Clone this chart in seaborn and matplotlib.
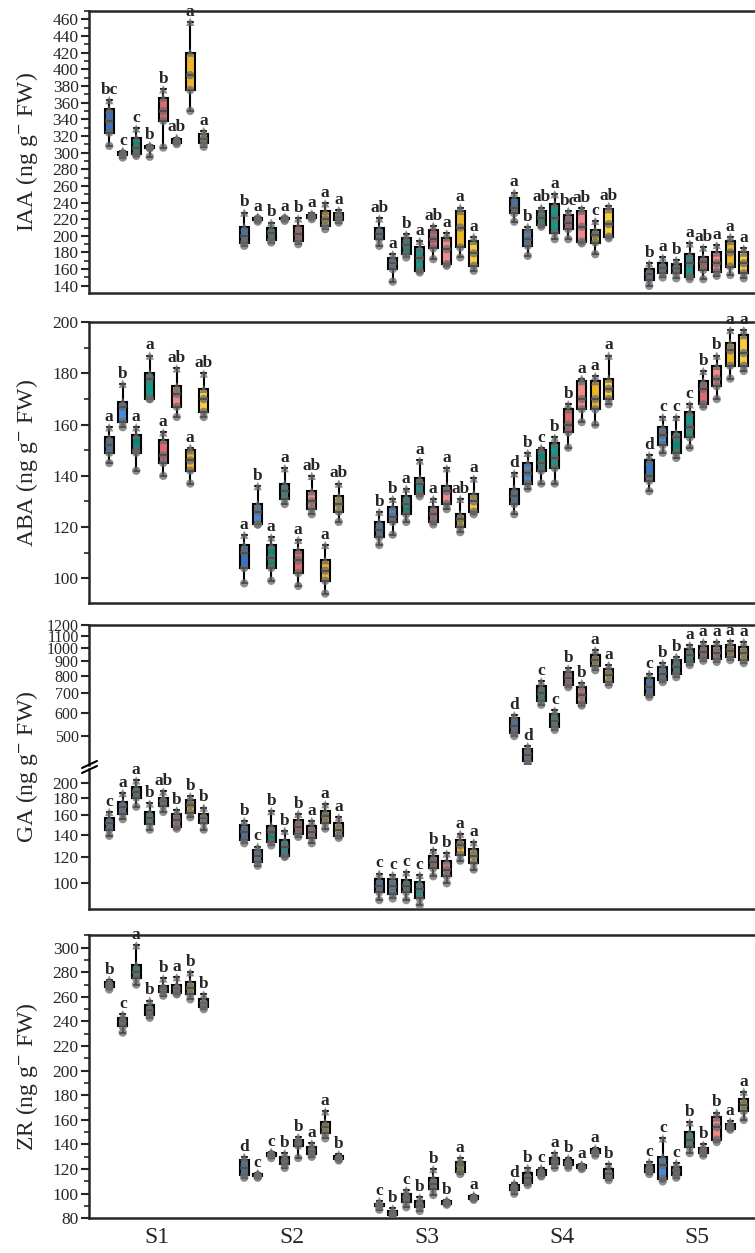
import matplotlib

matplotlib.use("Agg")
import matplotlib.pyplot as plt
import pandas as pd
import seaborn as sns
from matplotlib.lines import Line2D
from matplotlib.ticker import FixedFormatter, FixedLocator, MultipleLocator, NullLocator

STAGES = ["S1", "S2", "S3", "S4", "S5"]
GROUPS = ["B1", "B2", "T1", "T2", "R1", "R2", "Y1", "Y2"]
PALETTE = ["#3574c4", "#4a8ad6", "#0f8577", "#16998a",
           "#dc6a72", "#f28a8c", "#eab52a", "#f9cd3d"]

# five readings per box: min, q1, median, q3, max
IAA_VALUES = [
    [[308, 324, 338, 352, 363], [294, 297, 299, 301, 302], [296, 298, 305, 318, 329], [295, 305, 306, 308, 309],
     [306, 338, 350, 366, 376], [310, 312, 314, 316, 318], [350, 375, 393, 420, 457], [307, 311, 316, 322, 326]],
    [[188, 192, 200, 211, 228], [217, 219, 221, 222, 223], [192, 195, 203, 210, 216], [218, 220, 221, 222, 223],
     [190, 194, 202, 212, 221], [220, 222, 224, 225, 227], [208, 212, 220, 230, 239], [216, 219, 223, 227, 231]],
    [[188, 196, 202, 209, 221], [145, 160, 167, 173, 178], [174, 178, 189, 198, 202], [156, 158, 173, 186, 194],
     [172, 185, 196, 207, 212], [164, 166, 184, 198, 203], [174, 186, 210, 230, 234], [158, 164, 179, 194, 199]],
    [[217, 227, 234, 246, 252], [176, 188, 196, 207, 211], [211, 213, 222, 230, 234], [196, 204, 221, 238, 250],
     [196, 208, 216, 225, 230], [191, 193, 211, 230, 233], [178, 192, 201, 207, 218], [197, 199, 214, 232, 236]],
    [[140, 147, 154, 160, 167], [150, 155, 161, 167, 174], [149, 155, 161, 166, 171], [148, 151, 167, 178, 191],
     [148, 159, 168, 174, 186], [152, 157, 167, 180, 189], [153, 163, 180, 194, 199], [149, 155, 167, 180, 185]],
]
IAA_LETTERS = [
    ["bc", "c", "c", "b", "b", "ab", "a", "a"],
    ["b", "a", "b", "a", "b", "a", "a", "a"],
    ["ab", "a", "b", "a", "ab", "a", "a", "a"],
    ["a", "b", "ab", "a", "bc", "ab", "c", "ab"],
    ["b", "a", "b", "a", "ab", "a", "a", "a"],
]

ABA_VALUES = [
    [[145, 149, 152, 155, 159], [159, 161, 167, 169, 176], [142, 149, 150, 156, 159], [170, 170, 178, 180, 187],
     [140, 145, 148, 154, 157], [163, 167, 172, 175, 182], [137, 142, 146, 150, 151], [163, 165, 170, 174, 180]],
    [[98, 104, 110, 113, 117], [121, 121, 126, 129, 136], [99, 104, 108, 113, 116], [129, 131, 134, 137, 143],
     [97, 102, 107, 111, 115], [125, 127, 130, 134, 140], [94, 99, 103, 107, 113], [122, 126, 129, 132, 137]],
    [[113, 116, 119, 122, 126], [117, 122, 124, 128, 131], [122, 125, 129, 132, 135], [132, 133, 137, 139, 146],
     [121, 122, 125, 128, 131], [127, 129, 134, 136, 143], [118, 120, 123, 125, 131], [125, 126, 130, 133, 139]],
    [[125, 129, 132, 135, 141], [135, 137, 141, 145, 149], [137, 142, 145, 150, 151], [137, 143, 147, 153, 155],
     [151, 157, 160, 166, 168], [161, 166, 170, 177, 178], [160, 166, 170, 177, 179], [168, 170, 174, 178, 187]],
    [[134, 138, 140, 146, 148], [149, 152, 156, 159, 163], [147, 149, 155, 157, 163], [151, 155, 159, 165, 168],
     [167, 168, 174, 177, 181], [170, 175, 178, 183, 187], [178, 183, 189, 192, 197], [181, 183, 188, 195, 197]],
]
ABA_LETTERS = [
    ["a", "b", "a", "a", "a", "ab", "a", "ab"],
    ["a", "b", "a", "a", "a", "ab", "a", "ab"],
    ["b", "b", "a", "a", "a", "a", "ab", "a"],
    ["d", "b", "c", "b", "b", "a", "a", "a"],
    ["d", "c", "c", "c", "b", "b", "a", "a"],
]

GA_VALUES = [
    [[139, 145, 152, 157, 164], [156, 162, 170, 176, 187], [170, 181, 188, 195, 204], [145, 151, 157, 164, 174],
     [164, 171, 177, 181, 189], [146, 148, 155, 162, 166], [158, 163, 172, 178, 183], [145, 152, 157, 162, 169]],
    [[132, 135, 143, 150, 154], [113, 116, 121, 126, 129], [130, 133, 143, 149, 165], [120, 121, 129, 135, 144],
     [138, 141, 148, 155, 162], [132, 137, 143, 149, 154], [146, 152, 159, 165, 173], [137, 139, 145, 152, 158]],
    [[89, 94, 98, 103, 107], [90, 93, 98, 103, 106], [89, 94, 98, 102, 108], [86, 90, 96, 101, 106],
     [105, 111, 116, 121, 126], [100, 105, 110, 117, 123], [117, 122, 130, 135, 141], [110, 115, 121, 127, 133]],
    [[500, 512, 540, 575, 590], [402, 410, 430, 450, 462], [640, 660, 700, 740, 770], [525, 538, 565, 595, 612],
     [735, 750, 790, 830, 852], [636, 648, 690, 738, 760], [840, 866, 910, 948, 985], [748, 767, 812, 850, 876]],
    [[680, 692, 735, 788, 818], [765, 780, 818, 862, 889], [795, 818, 864, 908, 935], [875, 895, 945, 990, 1025],
     [905, 925, 972, 1020, 1050], [897, 918, 965, 1015, 1050], [910, 932, 980, 1022, 1054], [889, 910, 960, 1012, 1050]],
]
GA_LETTERS = [
    ["c", "a", "a", "b", "ab", "b", "b", "b"],
    ["b", "c", "b", "b", "b", "a", "a", "a"],
    ["c", "c", "c", "c", "b", "b", "a", "a"],
    ["d", "d", "c", "c", "b", "b", "a", "a"],
    ["c", "b", "b", "a", "a", "a", "a", "a"],
]

ZR_VALUES = [
    [[266, 268, 270, 272, 274], [231, 236, 240, 243, 246], [270, 275, 280, 286, 302], [243, 245, 249, 253, 257],
     [261, 264, 267, 269, 275], [262, 263, 267, 270, 276], [258, 262, 267, 272, 280], [250, 252, 255, 258, 262]],
    [[113, 115, 121, 127, 130], [113, 114, 115, 116, 117], [129, 131, 132, 133, 134], [121, 124, 127, 130, 133],
     [129, 139, 142, 144, 146], [130, 132, 135, 138, 141], [145, 149, 154, 158, 167], [127, 128, 129, 131, 132]],
    [[87, 90, 91, 92, 94], [81, 83, 84, 86, 88], [89, 93, 97, 100, 103], [86, 89, 91, 94, 97],
     [99, 104, 108, 113, 120], [91, 92, 93, 94, 95], [116, 118, 123, 126, 129], [95, 96, 97, 98, 99]],
    [[100, 103, 105, 107, 109], [107, 109, 113, 117, 121], [114, 115, 117, 119, 121], [121, 124, 127, 129, 133],
     [121, 123, 125, 127, 129], [120, 121, 122, 123, 124], [131, 133, 134, 136, 137], [111, 113, 116, 120, 124]],
    [[116, 118, 120, 123, 126], [110, 112, 123, 130, 145], [113, 115, 119, 122, 125], [133, 138, 144, 150, 158],
     [131, 133, 135, 137, 140], [142, 144, 154, 162, 166], [152, 153, 155, 157, 159], [160, 167, 172, 177, 183]],
]
ZR_LETTERS = [
    ["b", "c", "a", "b", "b", "a", "b", "b"],
    ["d", "c", "c", "b", "b", "a", "a", "b"],
    ["c", "b", "c", "b", "b", "b", "a", "a"],
    ["d", "b", "c", "a", "b", "a", "a", "b"],
    ["c", "c", "c", "b", "b", "b", "a", "a"],
]

W, H = 755, 1253


def to_frame(values):
    rows = []
    for stage, boxes in zip(STAGES, values):
        for group, reps in zip(GROUPS, boxes):
            for rep, value in enumerate(reps):
                rows.append({"stage": stage, "group": group, "rep": rep, "value": value})
    return pd.DataFrame(rows)


def px_axes(fig, top, bottom, left=89, right=764):
    return fig.add_axes([left / W, 1 - bottom / H, (right - left) / W, (bottom - top) / H])


def draw_boxes(ax, frame):
    sns.boxplot(
        data=frame, x="stage", y="value", hue="group",
        order=STAGES, hue_order=GROUPS, palette=PALETTE, saturation=1,
        width=0.8, gap=0.33, whis=(0, 100), showfliers=False,
        linewidth=1.5, linecolor="black", legend=False, ax=ax,
    )
    for marker, reps in (("o", [0, 1, 2]), ("^", [3, 4])):
        sns.stripplot(
            data=frame[frame["rep"].isin(reps)], x="stage", y="value", hue="group",
            order=STAGES, hue_order=GROUPS, palette=["#6a6a6a"] * len(GROUPS),
            dodge=True, jitter=False, marker=marker, size=6, alpha=0.75,
            linewidth=0, legend=False, ax=ax,
        )


def add_letters(ax, values, letters):
    for i, (boxes, marks) in enumerate(zip(values, letters)):
        for j, (reps, mark) in enumerate(zip(boxes, marks)):
            x = i - 0.35 + 0.1 * j
            ax.annotate(mark, xy=(x, max(reps)), xytext=(0, 1.5), textcoords="offset points",
                        ha="center", va="bottom", fontsize=12.5, fontweight="bold")


def style_axis(ax, show_x=False):
    ax.set_xlim(-0.5, 4.5)
    ax.set_xlabel("")
    ax.set_ylabel("")
    for spine in ax.spines.values():
        spine.set_linewidth(1.8)
    ax.tick_params(axis="y", which="major", direction="out", length=6, width=1.5, labelsize=12.5, pad=1.5)
    ax.tick_params(axis="y", which="minor", direction="out", length=3.5, width=1.2)
    ax.tick_params(axis="x", length=0, labelsize=17, pad=6, labelbottom=show_x)


def linear_panel(fig, top, bottom, values, letters, ylim, step, show_x=False):
    ax = px_axes(fig, top, bottom)
    draw_boxes(ax, to_frame(values))
    add_letters(ax, values, letters)
    ax.set_ylim(*ylim)
    ax.yaxis.set_major_locator(MultipleLocator(step))
    ax.yaxis.set_minor_locator(MultipleLocator(10))
    style_axis(ax, show_x)
    return ax


def ga_panel(fig):
    frame = to_frame(GA_VALUES)
    upper = px_axes(fig, 625, 765)
    lower = px_axes(fig, 769, 909.3)
    for ax, lim, ticks in ((upper, (398, 1200), list(range(500, 1201, 100))),
                           (lower, (83.5, 220.8), list(range(100, 201, 20)))):
        ax.set_yscale("log")
        draw_boxes(ax, frame)
        add_letters(ax, GA_VALUES, GA_LETTERS)
        ax.set_ylim(*lim)
        ax.yaxis.set_major_locator(FixedLocator(ticks))
        ax.yaxis.set_major_formatter(FixedFormatter([str(t) for t in ticks]))
        ax.yaxis.set_minor_locator(NullLocator())
        style_axis(ax)
    # the top labels sit closer together on the log scale
    upper.tick_params(axis="y", labelsize=11.5)
    upper.spines["bottom"].set_visible(False)
    lower.spines["top"].set_visible(False)
    for y in (768, 773):
        fig.add_artist(Line2D([82 / W, 97 / W], [1 - y / H, 1 - (y - 7) / H],
                              color="black", linewidth=1.5, transform=fig.transFigure))


sns.set_style("ticks")
plt.rcParams["font.family"] = ["Liberation Serif", "DejaVu Serif"]
plt.rcParams["mathtext.fontset"] = "stix"

fig = plt.figure(figsize=(W / 100, H / 100), dpi=100)
linear_panel(fig, 11, 293.3, IAA_VALUES, IAA_LETTERS, (131, 470), 20)
linear_panel(fig, 322.3, 603.3, ABA_VALUES, ABA_LETTERS, (90.2, 200), 20)
ga_panel(fig)
linear_panel(fig, 935, 1218.3, ZR_VALUES, ZR_LETTERS, (80, 310.3), 20, show_x=True)

for name, ycen in (("IAA", 152), ("ABA", 463), ("GA", 767), ("ZR", 1077)):
    fig.text(27 / W, 1 - ycen / H, name + r" (ng g$^{-}$ FW)", rotation=90,
             ha="center", va="center", fontsize=17)

fig.savefig("out.png", dpi=100)
